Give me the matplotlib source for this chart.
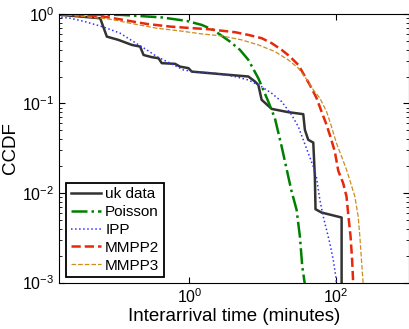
import numpy as np
import matplotlib
matplotlib.use('Agg')
import matplotlib.pyplot as plt
from matplotlib.ticker import LogLocator, NullLocator, NullFormatter

plt.rcParams['font.family'] = ['Liberation Sans', 'DejaVu Sans']
plt.rcParams['mathtext.fontset'] = 'custom'
plt.rcParams['mathtext.rm'] = 'Liberation Sans'
plt.rcParams['mathtext.it'] = 'Liberation Sans'

# values (minutes, CCDF)
uk_t = [0.0176, 0.0603, 0.0744, 0.107, 0.163, 0.212, 0.236, 0.306, 0.378,
        0.419, 0.637, 0.744, 0.969, 1.075, 3.40, 6.38, 7.85, 8.74, 9.69,
        13.3, 22.4, 35.9, 37.8, 42.0, 49.2, 51.7, 52.8, 63.8, 120.0, 120.0]
uk_p = [0.975, 0.895, 0.558, 0.513, 0.451, 0.432, 0.348, 0.329, 0.320,
        0.282, 0.277, 0.258, 0.248, 0.227, 0.209, 0.200, 0.176, 0.161, 0.110,
        0.087, 0.080, 0.076, 0.0507, 0.0393, 0.0366, 0.0153, 0.0066, 0.00606,
        0.00533, 0.0005]

poi_t = [0.0176, 0.119, 0.419, 0.918, 1.47, 2.12, 3.58, 4.90, 6.38, 8.74,
         11.96, 14.7, 18.2, 22.4, 24.9, 29.1, 32.3, 34.8, 37.8]
poi_p = [0.995, 0.975, 0.914, 0.835, 0.754, 0.663, 0.491, 0.397, 0.307, 0.191,
         0.105, 0.0685, 0.0330, 0.0153, 0.0104, 0.0065, 0.00327, 0.00151, 0.00095]

ipp_t = [0.0177, 0.0235, 0.0373, 0.0637, 0.0744, 0.113, 0.172, 0.261, 0.358,
         0.544, 0.828, 1.13, 2.21, 4.15, 6.38, 9.69, 13.3, 18.2, 24.9, 30.7,
         35.9, 42.0, 49.2, 54.5, 60.5, 67.3, 74.7, 82.8, 92.2, 100.0, 102.0]
ipp_p = [0.919, 0.895, 0.821, 0.722, 0.692, 0.609, 0.491, 0.397, 0.334,
         0.282, 0.237, 0.227, 0.218, 0.200, 0.183, 0.154, 0.130, 0.105, 0.0746,
         0.0552, 0.0393, 0.0279, 0.0198, 0.0148, 0.0084, 0.00547, 0.00388,
         0.00276, 0.00180, 0.00117, 0.00095]

mm2_t = [0.0176, 0.0671, 0.126, 0.261, 0.544, 1.13, 1.82, 4.19, 6.38, 9.69,
         13.3, 18.2, 23.6, 30.7, 44.2, 54.5, 63.8, 74.7, 82.8, 96.9, 108.0,
         126.0, 140.0, 148.0, 159.0, 167.0, 173.0]
mm2_p = [0.987, 0.933, 0.857, 0.773, 0.722, 0.692, 0.675, 0.625, 0.583, 0.536,
         0.471, 0.397, 0.334, 0.270, 0.161, 0.115, 0.0812, 0.0577, 0.0446,
         0.0291, 0.0177, 0.0129, 0.00914, 0.00571, 0.00327, 0.00180, 0.00095]

mm3_t = [0.0176, 0.0826, 0.155, 0.358, 0.744, 1.47, 2.76, 5.17, 8.74, 14.7,
         22.4, 30.7, 42.0, 49.2, 60.5, 74.7, 87.3, 102.0, 120.0, 140.0, 155.0,
         182.0, 202.0, 213.0, 224.0, 237.0]
mm3_p = [0.99, 0.873, 0.787, 0.692, 0.646, 0.598, 0.568, 0.513, 0.451, 0.380,
         0.307, 0.248, 0.176, 0.142, 0.115, 0.0812, 0.0552, 0.0360, 0.0255,
         0.0182, 0.0140, 0.00914, 0.00547, 0.00327, 0.00180, 0.00095]

fig = plt.figure(figsize=(4.1, 3.29), dpi=100)
ax = fig.add_axes([0.1446, 0.141, 0.853, 0.8167])

ax.loglog(uk_t, uk_p, '-', color='#333333', lw=1.8, label='uk data')
ax.loglog(poi_t, poi_p, '-.', color='#008000', lw=1.8, label='Poisson')
ax.loglog(ipp_t, ipp_p, ':', color='#3030ff', lw=1.1, label='IPP')
ax.loglog(mm2_t, mm2_p, '--', color='#e8280a', lw=1.8, label='MMPP2')
ax.loglog(mm3_t, mm3_p, '--', color='#cc8c20', lw=0.9, label='MMPP3')

ax.set_xlim(1.0 / 60, 1000)
ax.set_ylim(1e-3, 1)
ax.xaxis.set_major_locator(LogLocator(base=100.0, numticks=10))
ax.xaxis.set_minor_locator(NullLocator())
ax.yaxis.set_minor_locator(LogLocator(base=10.0, subs=np.arange(2, 10), numticks=10))
ax.yaxis.set_minor_formatter(NullFormatter())
ax.tick_params(which='both', direction='in', top=True, right=True, labelsize=11.5)
ax.tick_params(which='major', length=4)
ax.tick_params(which='minor', length=2)

ax.set_xlabel('Interarrival time (minutes)', fontsize=13.5, labelpad=1)
ax.set_ylabel('CCDF', fontsize=13.5, labelpad=2)

leg = ax.legend(loc='lower left', bbox_to_anchor=(0.02, 0.02), borderaxespad=0,
                fontsize=11, fancybox=False, framealpha=1, handlelength=2.0,
                labelspacing=0.25, handletextpad=0.25, borderpad=0.3)
leg.get_frame().set_edgecolor('black')
leg.get_frame().set_linewidth(1.3)

fig.savefig('out.png', dpi=100)
